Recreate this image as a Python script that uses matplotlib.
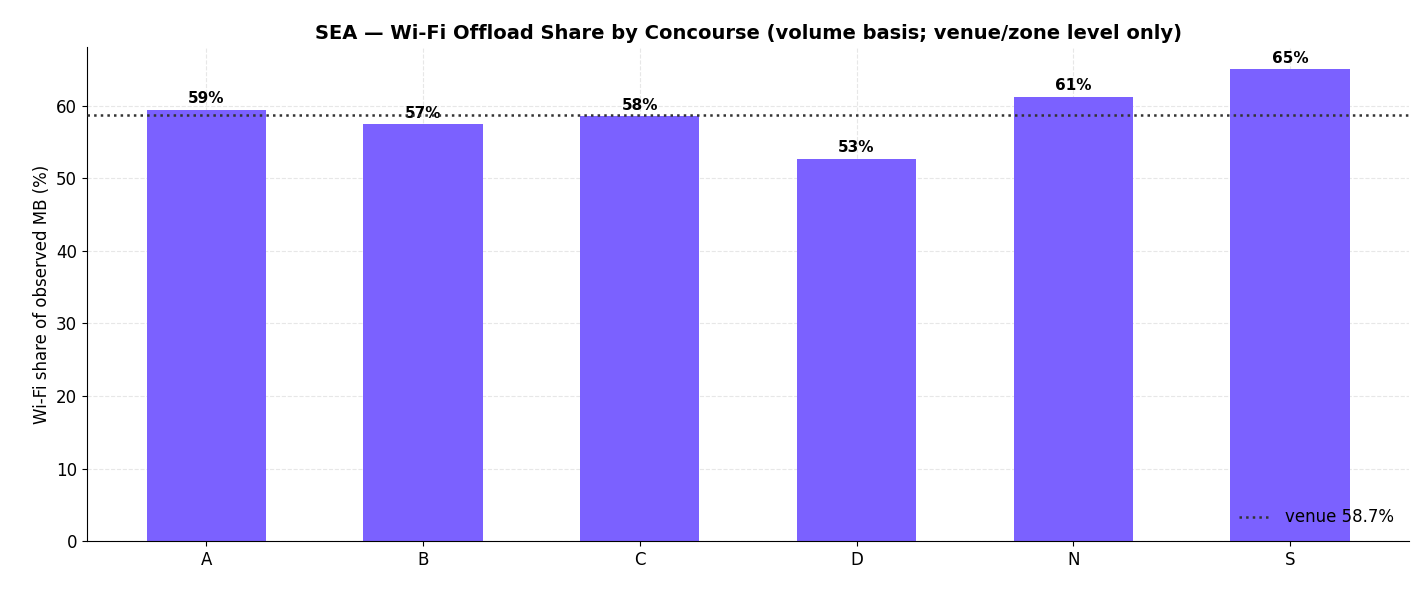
import matplotlib
matplotlib.use("Agg")
import matplotlib.pyplot as plt

concourses = ["A", "B", "C", "D", "N", "S"]
wifi_share = [59.4, 57.4, 58.5, 52.7, 61.2, 65.0]
venue_share = 58.7

fig, ax = plt.subplots(figsize=(14.25, 5.93), dpi=100)
bars = ax.bar(concourses, wifi_share, width=0.55, color="#7B61FF", zorder=2)
for b, v in zip(bars, wifi_share):
    ax.text(b.get_x() + b.get_width() / 2, v + 0.5, f"{v:.0f}%", ha="center", va="bottom",
            fontsize=11, fontweight="bold")
ax.axhline(venue_share, color="#333333", linestyle=":", linewidth=1.8, label=f"venue {venue_share}%", zorder=3)
ax.grid(True, linestyle="--", alpha=0.3, zorder=0)
ax.set_axisbelow(True)
ax.set_xlim(-0.55, 5.55)
ax.set_ylim(0, 68)
ax.spines["top"].set_visible(False)
ax.spines["right"].set_visible(False)
ax.tick_params(labelsize=12)
ax.set_ylabel("Wi-Fi share of observed MB (%)", fontsize=12)
ax.set_title("SEA — Wi-Fi Offload Share by Concourse (volume basis; venue/zone level only)",
             fontsize=14, fontweight="bold")
ax.legend(loc="lower right", frameon=False, fontsize=12)
fig.subplots_adjust(left=0.061, right=0.989, top=0.92, bottom=0.087)
fig.savefig("out.png", dpi=100)
